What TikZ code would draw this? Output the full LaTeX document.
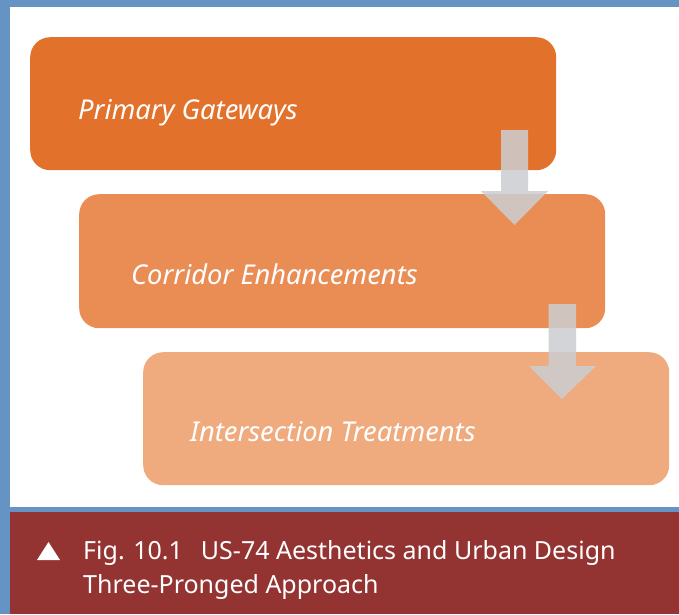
\documentclass[tikz,border=0pt]{standalone}
\usepackage{fontspec}
\setmainfont{Noto Sans}
\definecolor{frameblue}{HTML}{6593C4}
\definecolor{capred}{HTML}{943432}
\definecolor{boxA}{HTML}{E2712B}
\definecolor{boxB}{HTML}{E98D55}
\definecolor{boxC}{HTML}{EFAA7E}
\definecolor{arrowgray}{HTML}{CCCED1}
\tikzset{
  stagebox/.style={rounded corners=20pt, inner sep=0pt, anchor=north west, draw=none},
  stagetext/.style={anchor=base west, inner sep=0pt, text=white, font=\fontsize{27.3}{30}\selectfont\itshape},
  flowarrow/.style={fill=arrowgray, fill opacity=0.86, draw=none},
  captext/.style={anchor=base west, inner sep=0pt, text=white, font=\fontsize{25}{34}\selectfont}
}
\begin{document}
\begin{tikzpicture}[x=1pt,y=1pt]
\useasboundingbox (0,0) rectangle (679,-614);
\fill[frameblue] (0,0) rectangle (679,-614);
\fill[white] (10,-7) rectangle (679,-507);
\fill[capred] (10,-512) rectangle (679,-614);
% boxes
\node[stagebox, fill=boxA, minimum width=526pt, minimum height=133pt] (b1) at (30,-37) {};
\node[stagebox, fill=boxB, minimum width=526pt, minimum height=134pt] (b2) at (79,-194) {};
\node[stagebox, fill=boxC, minimum width=526pt, minimum height=133pt] (b3) at (143,-352) {};
\node[stagetext] (t1) at (78,-119) {Primary Gateways};
\node[stagetext] (t2) at (131,-284) {Corridor Enhancements};
\node[stagetext] (t3) at (190,-441) {Intersection Treatments};
% arrows
\fill[flowarrow] (501,-130) -- (528,-130) -- (528,-191) -- (548,-191) -- (514.5,-225) -- (481,-191) -- (501,-191) -- cycle;
\fill[flowarrow] (548.5,-304) -- (576,-304) -- (576,-366) -- (596,-366) -- (562,-399) -- (529,-366) -- (548.5,-366) -- cycle;
% caption
\fill[white] (37,-560) -- (60,-560) -- (48.5,-542) -- cycle;
\node[captext] (cap1) at (83,-559) {Fig. 10.1\hspace{18pt}US-74 Aesthetics and Urban Design};
\node[captext] (cap2) at (83,-593) {Three-Pronged Approach};
\end{tikzpicture}
\end{document}
